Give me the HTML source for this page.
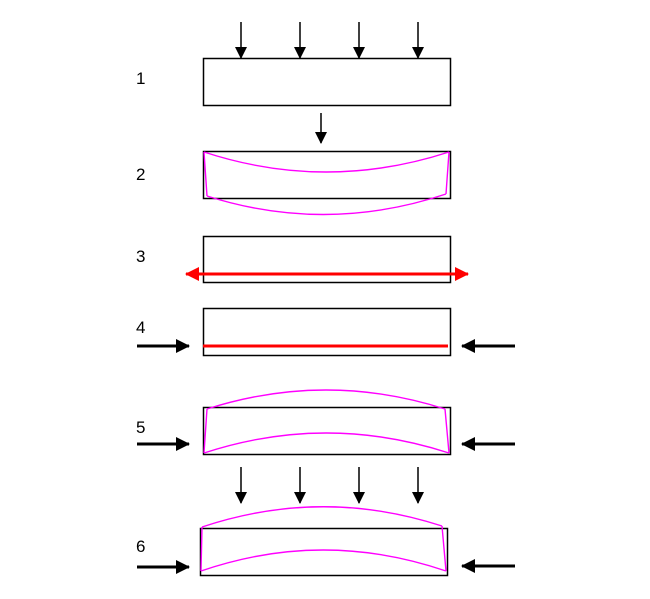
<!DOCTYPE html>
<html><head><meta charset="utf-8"><style>
html,body{margin:0;padding:0;background:#fff;width:650px;height:599px;overflow:hidden}
svg{display:block}
text{font-family:"Liberation Sans",sans-serif;font-size:17px;fill:#000}
</style></head><body>
<svg width="650" height="599" viewBox="0 0 650 599" xmlns="http://www.w3.org/2000/svg">
<defs>
<marker id="a" markerWidth="12" markerHeight="12" refX="11" refY="6" orient="auto" markerUnits="userSpaceOnUse" viewBox="0 0 12 12"><path d="M0,0L12,6L0,12z" fill="#000"/></marker>
<marker id="r" markerWidth="14" markerHeight="14" refX="13" refY="7" orient="auto-start-reverse" markerUnits="userSpaceOnUse" viewBox="0 0 14 14"><path d="M0,0L14,7L0,14z" fill="#f00"/></marker>
<marker id="b" markerWidth="14" markerHeight="14" refX="13" refY="7" orient="auto" markerUnits="userSpaceOnUse" viewBox="0 0 14 14"><path d="M0,0L14,7L0,14z" fill="#000"/></marker>
</defs>
<g stroke="#000" stroke-width="1.5" fill="none">
<line x1="241" y1="22" x2="241" y2="58" marker-end="url(#a)"/>
<line x1="300" y1="22" x2="300" y2="58" marker-end="url(#a)"/>
<line x1="359" y1="22" x2="359" y2="58" marker-end="url(#a)"/>
<line x1="418" y1="22" x2="418" y2="58" marker-end="url(#a)"/>
<line x1="321" y1="113" x2="321" y2="143" marker-end="url(#a)"/>
<line x1="241" y1="467" x2="241" y2="503" marker-end="url(#a)"/>
<line x1="300" y1="467" x2="300" y2="503" marker-end="url(#a)"/>
<line x1="359" y1="467" x2="359" y2="503" marker-end="url(#a)"/>
<line x1="418" y1="467" x2="418" y2="503" marker-end="url(#a)"/>
<rect x="203.5" y="58.5" width="247" height="47"/>
<rect x="203.5" y="151.5" width="247" height="47"/>
<rect x="203.5" y="236.5" width="247" height="46"/>
<rect x="203.5" y="308.5" width="247" height="47"/>
<rect x="203.5" y="407.5" width="247" height="47"/>
<rect x="200.5" y="528.5" width="247" height="47"/>
</g>
<g stroke="#000" stroke-width="3" fill="none">
<line x1="137" y1="346" x2="189" y2="346" marker-end="url(#b)"/>
<line x1="515" y1="346" x2="462" y2="346" marker-end="url(#b)"/>
<line x1="137" y1="444" x2="189" y2="444" marker-end="url(#b)"/>
<line x1="515" y1="444" x2="462" y2="444" marker-end="url(#b)"/>
<line x1="137" y1="567" x2="189" y2="567" marker-end="url(#b)"/>
<line x1="515" y1="566" x2="462" y2="566" marker-end="url(#b)"/>
</g>
<line x1="186" y1="274" x2="468" y2="274" stroke="#f00" stroke-width="3" marker-start="url(#r)" marker-end="url(#r)"/>
<line x1="203" y1="346" x2="448" y2="346" stroke="#f00" stroke-width="3"/>
<g stroke="#f0f" stroke-width="1.4" fill="none">
<path d="M204,152 Q326,192 449,152"/>
<path d="M207,196 Q326,234 446,194"/>
<path d="M204,152 L207,196 M449,152 L446,194"/>
<path d="M207,409 Q326,371 445,409"/>
<path d="M204,453 Q326,413 449,453"/>
<path d="M207,409 L204,453 M445,409 L449,453"/>
<path d="M202,527 Q322,487 442,526"/>
<path d="M201,571 Q323,529 446,571"/>
<path d="M202,527 L201,571 M442,526 L446,571"/>
</g>
<text x="136" y="84">1</text>
<text x="136" y="180">2</text>
<text x="136" y="262">3</text>
<text x="136" y="333">4</text>
<text x="136" y="433">5</text>
<text x="136" y="552">6</text>
</svg>
</body></html>
